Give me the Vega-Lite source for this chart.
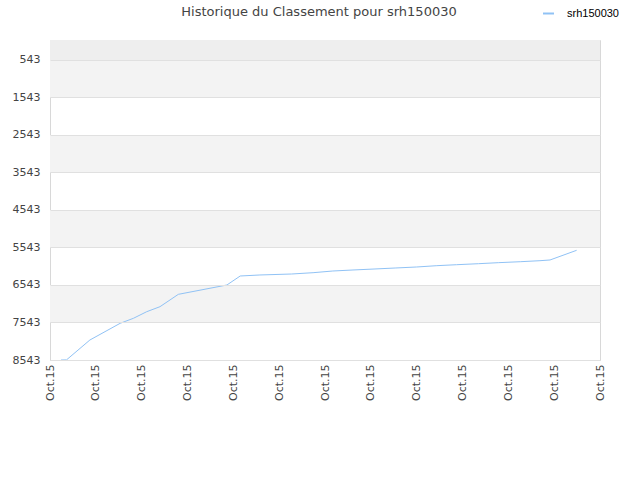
{
  "$schema": "https://vega.github.io/schema/vega-lite/v6.json",
  "width": 550,
  "height": 320,
  "autosize": {"type": "none"},
  "padding": {"left": 50, "top": 40, "right": 40, "bottom": 120},
  "background": "white",
  "config": {
    "view": {"stroke": "#d8d8d8", "strokeWidth": 1},
    "font": "DejaVu Sans"
  },
  "title": {
    "text": "Historique du Classement pour srh150030",
    "fontSize": 13,
    "fontWeight": "normal",
    "color": "#444444",
    "font": "DejaVu Sans",
    "anchor": "middle",
    "dx": -6,
    "offset": -12
  },
  "resolve": {"scale": {"color": "independent"}},
  "datasets": {
    "bands": [
      {"y1": 10, "y2": 543, "shade": "top"},
      {"y1": 543, "y2": 1543, "shade": "band"},
      {"y1": 2543, "y2": 3543, "shade": "band"},
      {"y1": 4543, "y2": 5543, "shade": "band"},
      {"y1": 6543, "y2": 7543, "shade": "band"}
    ],
    "ranks": [
      {"t": 0.24, "rank": 8543, "name": "srh150030"},
      {"t": 0.36, "rank": 8540, "name": "srh150030"},
      {"t": 0.87, "rank": 8010, "name": "srh150030"},
      {"t": 1.53, "rank": 7565, "name": "srh150030"},
      {"t": 1.82, "rank": 7431, "name": "srh150030"},
      {"t": 2.11, "rank": 7255, "name": "srh150030"},
      {"t": 2.40, "rank": 7121, "name": "srh150030"},
      {"t": 2.80, "rank": 6792, "name": "srh150030"},
      {"t": 3.86, "rank": 6543, "name": "srh150030"},
      {"t": 4.15, "rank": 6303, "name": "srh150030"},
      {"t": 4.58, "rank": 6276, "name": "srh150030"},
      {"t": 5.27, "rank": 6250, "name": "srh150030"},
      {"t": 5.74, "rank": 6215, "name": "srh150030"},
      {"t": 6.17, "rank": 6170, "name": "srh150030"},
      {"t": 6.61, "rank": 6143, "name": "srh150030"},
      {"t": 7.09, "rank": 6116, "name": "srh150030"},
      {"t": 7.53, "rank": 6090, "name": "srh150030"},
      {"t": 8.00, "rank": 6063, "name": "srh150030"},
      {"t": 8.44, "rank": 6028, "name": "srh150030"},
      {"t": 8.87, "rank": 6002, "name": "srh150030"},
      {"t": 9.35, "rank": 5975, "name": "srh150030"},
      {"t": 9.78, "rank": 5948, "name": "srh150030"},
      {"t": 10.26, "rank": 5922, "name": "srh150030"},
      {"t": 10.69, "rank": 5895, "name": "srh150030"},
      {"t": 10.91, "rank": 5876, "name": "srh150030"},
      {"t": 11.49, "rank": 5618, "name": "srh150030"}
    ]
  },
  "layer": [
    {
      "data": {"name": "bands"},
      "mark": {"type": "rect"},
      "encoding": {
        "y": {
          "field": "y1", "type": "quantitative",
          "scale": {"domain": [10, 8543], "reverse": true, "nice": false, "zero": false},
          "axis": {
            "title": null,
            "values": [543, 1543, 2543, 3543, 4543, 5543, 6543, 7543, 8543],
            "format": "d",
            "labelFontSize": 11,
            "labelColor": "#444444",
            "labelPadding": 10,
            "labelOverlap": false,
            "labelBound": false,
            "ticks": false,
            "domain": false,
            "grid": true,
            "gridColor": "#e0e0e0",
            "gridWidth": 1,
            "zindex": 1
          }
        },
        "y2": {"field": "y2"},
        "color": {
          "field": "shade", "type": "nominal",
          "scale": {"domain": ["top", "band"], "range": ["#eeeeee", "#f3f3f3"]},
          "legend": null
        }
      }
    },
    {
      "data": {"name": "ranks"},
      "mark": {"type": "line", "strokeWidth": 1, "interpolate": "linear"},
      "encoding": {
        "x": {
          "field": "t", "type": "quantitative",
          "scale": {"domain": [0, 12], "nice": false, "zero": false},
          "axis": {
            "title": null,
            "values": [0,1,2,3,4,5,6,7,8,9,10,11,12],
            "labelExpr": "'Oct.15'",
            "labelAngle": -90,
            "labelFontSize": 11,
            "labelColor": "#444444",
            "labelPadding": 4,
            "labelOverlap": false,
            "labelBound": false,
            "ticks": false,
            "grid": false,
            "domainColor": "#d8d8d8"
          }
        },
        "y": {
          "field": "rank", "type": "quantitative",
          "scale": {"domain": [10, 8543], "reverse": true, "nice": false, "zero": false},
          "axis": {
            "title": null,
            "values": [543, 1543, 2543, 3543, 4543, 5543, 6543, 7543, 8543],
            "format": "d",
            "labelFontSize": 11,
            "labelColor": "#444444",
            "labelPadding": 10,
            "labelOverlap": false,
            "labelBound": false,
            "ticks": false,
            "domain": false,
            "grid": true,
            "gridColor": "#e0e0e0",
            "gridWidth": 1,
            "zindex": 1
          }
        },
        "color": {
          "field": "name", "type": "nominal",
          "scale": {"range": ["#90c2f5"]},
          "legend": {
            "title": null,
            "orient": "none",
            "legendX": 492,
            "legendY": -33,
            "symbolType": "stroke",
            "symbolSize": 120,
            "symbolStrokeWidth": 2,
            "labelOffset": 12,
            "labelFontSize": 11,
            "labelColor": "#000000",
            "labelFont": "Liberation Sans"
          }
        }
      }
    }
  ]
}
